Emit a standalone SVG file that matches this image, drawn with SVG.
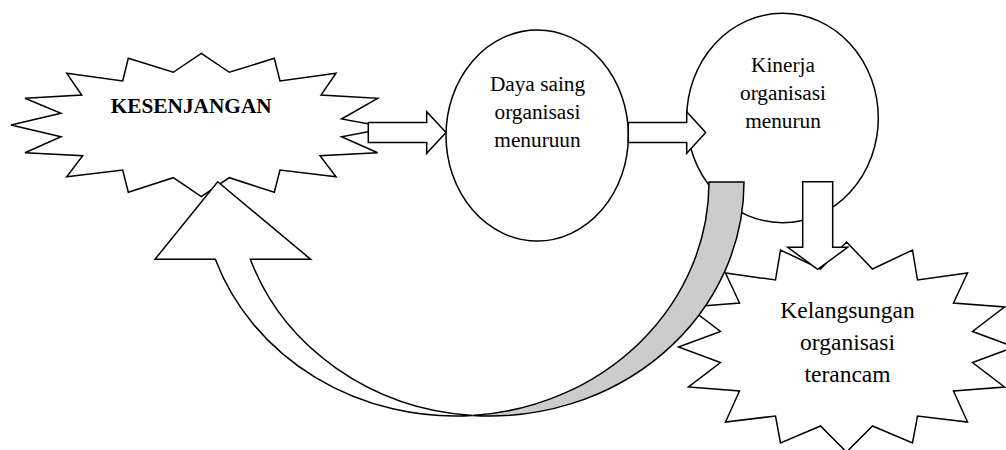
<svg xmlns="http://www.w3.org/2000/svg" width="1006" height="450" viewBox="0 0 1006 450">
<style>
.shape{fill:#ffffff;stroke:#000000;stroke-width:1.5;stroke-linejoin:miter}
.shade{fill:#cccccc;stroke:#000000;stroke-width:1.5}
.t{font-family:"Liberation Serif","Times New Roman",serif;fill:#000000;text-anchor:middle}
.t1{font-size:21.3px}
.t2{font-size:23.5px}
.b{font-weight:bold}
</style>
<rect width="1006" height="450" fill="#ffffff"/>
<g id="kesenjangan">
<polygon class="shape" points="201.3,53.3 229.3,72.3 274.3,58.3 280,81 336,73.3 321,95 377.6,98.3 341.6,119 389.4,127.7 341.6,136.7 377.6,152.7 320,155.7 336,176.7 280,170 274.3,192.3 229.3,177.7 201.3,196.7 173.3,177.7 128.3,192.3 122.7,170 66.7,176.7 82.7,155.7 25,152.7 61,136.7 11,125 61,113.3 25,98.3 81.7,95 66.7,73.3 122.7,81 128.3,58.3 173.3,72.3"/>
<text class="t t1 b" x="191.2" y="113.3">KESENJANGAN</text>
</g>
<g id="daya-saing">
<ellipse class="shape" cx="537.2" cy="135.5" rx="91.2" ry="105.5"/>
<text class="t t1" x="537.5" y="90.5">Daya saing</text>
<text class="t t1" x="537.5" y="118.5">organisasi</text>
<text class="t t1" x="537.5" y="146.5">menuruun</text>
</g>
<g id="kinerja">
<ellipse class="shape" cx="782.5" cy="118" rx="95.8" ry="104.7"/>
<text class="t t1" x="783" y="71.5">Kinerja</text>
<text class="t t1" x="783" y="99.5">organisasi</text>
<text class="t t1" x="783" y="127.5">menurun</text>
</g>
<g id="kelangsungan">
<polygon class="shape" points="846.5,242 872.5,269 912.5,250 917.5,280 967.5,273 953.5,303 1004.5,307 972.5,331.5 1014.5,347 972.5,362.5 1004.5,387 953.5,391 967.5,422 917.5,416 912.5,443 872.5,426 846.5,452 820.5,426 780.5,443 775.5,416 725.5,422 739.5,391 688.5,387 720.5,362.5 678.5,347 720.5,331.5 688.5,307 739.5,303 725.5,273 775.5,280 780.5,250 820.5,269"/>
<text class="t t2" x="847.5" y="317.7">Kelangsungan</text>
<text class="t t2" x="847.5" y="350">organisasi</text>
<text class="t t2" x="847.5" y="382.3">terancam</text>
</g>
<g id="connectors">
<polygon class="shape" points="368.3,122.5 426.7,122.5 426.7,111.7 446,132.5 426.7,153.3 426.7,142.5 368.3,142.5"/>
<polygon class="shape" points="628.3,122.5 686.7,122.5 686.7,111.7 705.7,132.5 686.7,153.3 686.7,142.5 628.3,142.5"/>
<polygon class="shape" points="802.7,181.7 832.7,181.7 832.7,247.3 847.7,247.3 817.7,269.3 787.7,247.3 802.7,247.3"/>
<path class="shade" d="M472.5,415.44 A254,234 0 0 0 744,182 L709,182 A254,234 0 0 1 472.5,415.44 Z"/>
<path class="shape" d="M215.3,259.3 A254,234 0 0 0 472.5,415.44 A254,234 0 0 1 250.3,259.3 L310.7,259.3 L217.7,181.7 L155,259.3 Z"/>
</g>
</svg>
